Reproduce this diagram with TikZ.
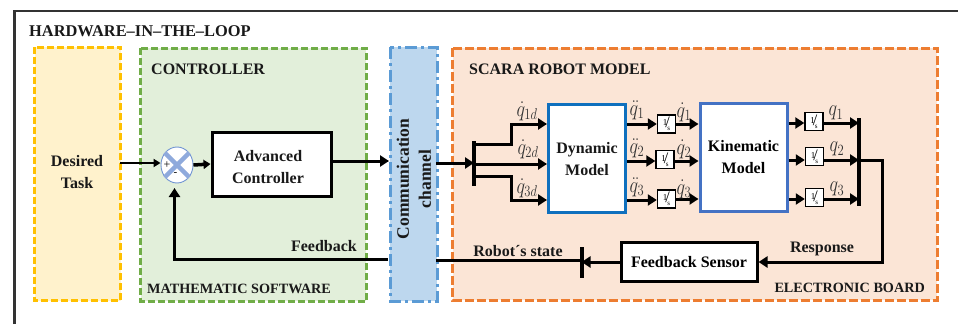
\documentclass[tikz,border=0pt]{standalone}
\usepackage{fontspec}
\setmainfont{Liberation Serif}
\usetikzlibrary{arrows.meta,shapes.geometric}
\definecolor{ylw}{HTML}{FFC000}\definecolor{ylwf}{HTML}{FFF2CC}
\definecolor{grn}{HTML}{70AD47}\definecolor{grnf}{HTML}{E2EFDA}
\definecolor{blu}{HTML}{5B9BD5}\definecolor{bluf}{HTML}{BDD7EE}
\definecolor{org}{HTML}{ED7D31}\definecolor{orgf}{HTML}{FBE5D6}
\definecolor{dynb}{HTML}{0F70BE}\definecolor{kinb}{HTML}{4472C4}
\definecolor{sumb}{HTML}{6F93D2}\definecolor{sumx}{HTML}{8FAADC}
\definecolor{grytxt}{HTML}{333333}
\tikzset{
 zone/.style={line width=3pt,dash pattern=on 7pt off 3pt},
 lbl/.style={font=\bfseries\fontsize{16}{18}\selectfont,inner sep=0pt,text=black!90},
 blk/.style={draw=black,line width=3pt,fill=white,inner sep=0pt,align=center,font=\bfseries\fontsize{16}{22}\selectfont},
 intb/.style={draw=black,line width=1.4pt,fill=white,inner sep=0pt,minimum width=18pt,minimum height=18pt},
 sig/.style={font=\fontsize{18}{18}\selectfont,inner sep=0pt,text=grytxt},
 conn/.style={line width=3pt,-{Triangle[length=9pt,width=11pt]}},
 wire/.style={line width=3pt},
 bus/.style={line width=4.5pt},
}
\newcommand{\oneoverS}{\raisebox{2pt}{\fontsize{9}{9}\selectfont 1}\kern-2pt{\fontsize{16}{16}\selectfont /}\kern-2.5pt\raisebox{-3pt}{\fontsize{7}{7}\selectfont s}}
\newcommand{\tallsig}[1]{\scalebox{1.05}[1.3]{$#1$}}
\begin{document}
\begin{tikzpicture}[x=1pt,y=-1pt]
\useasboundingbox (0,0) rectangle (958,324);
\fill[white] (0,0) rectangle (958,324);
\draw[line width=2.8pt,draw=black!80] (14.5,324) |- (958,11);
\node[lbl,anchor=west,font=\bfseries\fontsize{16.4}{18}\selectfont] (title) at (29,31) {HARDWARE–IN–THE–LOOP};
% zones
\draw[zone,draw=ylw,fill=ylwf] (34.5,47) rectangle (120.5,300.5);
\draw[zone,draw=grn,fill=grnf] (140.5,48) rectangle (366,301);
\draw[line width=3pt,draw=blu,fill=bluf,dash pattern=on 12pt off 4pt on 3pt off 4pt] (390,47) rectangle (437,301);
\draw[zone,draw=org,fill=orgf,dash pattern=on 9pt off 3pt] (452.5,48) rectangle (937,300);
% labels
\node[lbl,anchor=west] (ctl) at (151,69) {CONTROLLER};
\node[lbl,anchor=west,font=\bfseries\fontsize{14.2}{16}\selectfont] (math) at (147,289) {MATHEMATIC SOFTWARE};
\node[lbl,anchor=west] (scara) at (469,69) {SCARA ROBOT MODEL};
\node[lbl,anchor=east,font=\bfseries\fontsize{14.2}{16}\selectfont] (elec) at (925,288) {ELECTRONIC BOARD};
\node[lbl,align=center,font=\bfseries\fontsize{16}{22}\selectfont] (task) at (77,172) {Desired\\Task};
\node[lbl,rotate=90,align=center,font=\bfseries\fontsize{17.5}{22}\selectfont] (comm) at (414,179) {Communication\\channel};
% blocks
\node[blk,minimum width=119pt,minimum height=64pt] (adv) at (271.5,164) {};
\node[lbl,align=center,font=\bfseries\fontsize{16}{22}\selectfont] (advt) at (268,167) {Advanced\\Controller};
\node[blk,draw=dynb,minimum width=77pt,minimum height=108pt] (dyn) at (587,158) {};
\node[lbl,align=center,font=\bfseries\fontsize{16}{22}\selectfont] (dynt) at (587,159.5) {Dynamic\\Model};
\node[blk,draw=kinb,minimum width=87pt,minimum height=108pt] (kin) at (743.5,157) {Kinematic\\Model};
\node[blk,minimum width=136pt,minimum height=39pt] (sens) at (689,262) {Feedback Sensor};
% sum
\node[ellipse,draw=sumb,fill=white,line width=.9pt,minimum width=32pt,minimum height=36pt,inner sep=0pt] (sum) at (177,165) {};
\draw[sumx,line width=4.5pt] (sum.45) -- (sum.225) (sum.135) -- (sum.315);
\node[inner sep=0pt,font=\fontsize{12}{12}\selectfont] (plus) at (167,165) {+};
\node[inner sep=0pt,font=\fontsize{11}{11}\selectfont] (minus) at (175.5,174) {-};
% integrators
\node[intb] (i1) at (666.5,124) {\oneoverS};
\node[intb] (i2) at (665,159.5) {\oneoverS};
\node[intb] (i3) at (666.5,199) {\oneoverS};
\node[intb] (o1) at (814,121.5) {\oneoverS};
\node[intb] (o2) at (814.5,156.5) {\oneoverS};
\node[intb] (o3) at (814.5,197.5) {\oneoverS};
% coordinates
\coordinate (busLt) at (474,141); \coordinate (busLb) at (474,186);
\coordinate (busRt) at (859,118); \coordinate (busRb) at (859,206);
\coordinate (barT) at (581.5,247); \coordinate (barB) at (581.5,278);
\coordinate (commLin) at (389,161); \coordinate (commLout) at (436,163);
\coordinate (taskOut) at (120,163);
\coordinate (sumIn) at (174.5,188);
\coordinate (fbStart) at (388,259.5);
\draw[bus] (busLt) -- (busLb);
\draw[bus] (busRt) -- (busRb);
\draw[line width=4pt] (barT) -- (barB);
% connectors
\draw[line width=2pt,-{Triangle[length=7pt,width=8pt]}] (taskOut) -- (taskOut -| sum.west);
\draw[line width=3.5pt,-{Triangle[length=7pt,width=9pt]}] (sum.east) -- (adv.west);
\draw[conn] (adv.east |- 0,161) -- (commLin);
\draw[conn] (commLout) -- (busLt |- commLout);
\draw[conn] (busLt |- 0,144) -- (511,144) |- (dyn.west |- 0,124);
\draw[conn] (busLt |- 0,164) -- (dyn.west |- 0,164);
\draw[conn] (busLt |- 0,176) -- (511,176) |- (dyn.west |- 0,200);
\foreach \a/\y in {i1/124,i2/161,i3/200}{\draw[conn] (dyn.east |- 0,\y) -- (\a.west |- 0,\y);}
\foreach \a/\y in {i1/124,i2/161,i3/199}{\draw[conn] (\a.east |- 0,\y) -- (kin.west |- 0,\y);}
\foreach \a/\y in {o1/123,o2/160,o3/199}{\draw[conn] (kin.east |- 0,\y) -- (\a.west |- 0,\y);}
\foreach \a/\y in {o1/123,o2/160,o3/199}{\draw[conn] (\a.east |- 0,\y) -- (busRt |- 0,\y);}
\draw[wire,-{Triangle[length=9pt,width=11pt]}] (busRt |- 0,160) -- (882,160) |- (sens.east);
\draw[conn] (sens.west) -- (barT |- sens.west);
\draw[wire] (barT |- 0,260) -- (commLout |- 0,260);
\draw[conn] (fbStart) -| (sumIn);
% connector labels
\node[lbl,anchor=east] (fb) at (357,246) {Feedback};
\node[lbl] (rs) at (518,251) {Robot´s state};
\node[lbl] (resp) at (822,249) {Response};
% signals
\node[sig] at (527,111) {\tallsig{\dot q_{1d}}};
\node[sig] at (528,149) {\tallsig{\dot q_{2d}}};
\node[sig] at (527,188) {\tallsig{\dot q_{3d}}};
\node[sig] at (637,110) {\tallsig{\ddot q_1}};
\node[sig] at (637,148) {\tallsig{\ddot q_2}};
\node[sig] at (637,187) {\tallsig{\ddot q_3}};
\node[sig] at (684,112) {\tallsig{\dot q_1}};
\node[sig] at (684,149) {\tallsig{\dot q_2}};
\node[sig] at (684,189) {\tallsig{\dot q_3}};
\node[sig] at (836,113) {\tallsig{q_1}};
\node[sig] at (837,149) {\tallsig{q_2}};
\node[sig] at (837,189) {\tallsig{q_3}};
\end{tikzpicture}
\end{document}
